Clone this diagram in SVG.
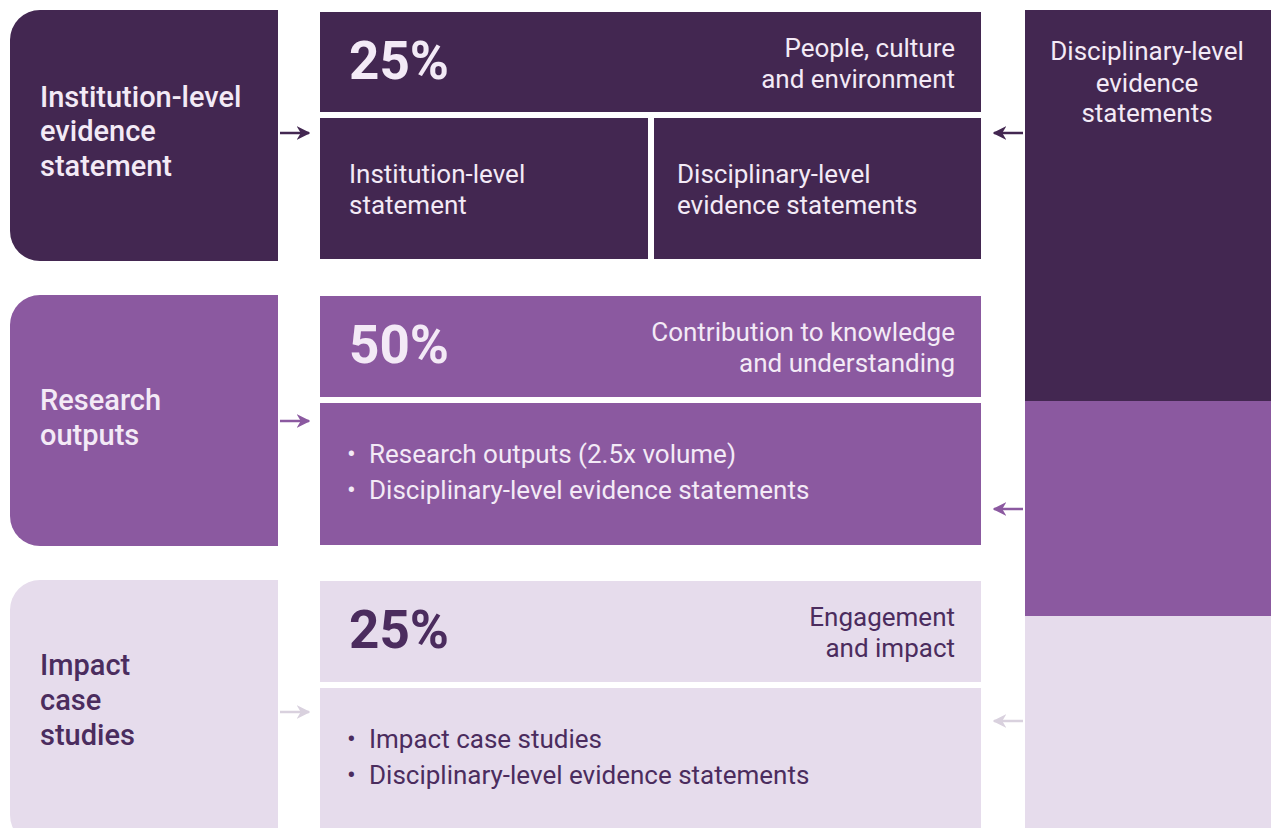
<svg xmlns="http://www.w3.org/2000/svg" width="1271" height="828" viewBox="0 0 1271 828">
<defs>
<style>
.t{font-family:Roboto,"Liberation Sans",sans-serif;}
.lbl{font-size:29px;font-weight:500;}
.big{font-size:53px;font-weight:700;}
.txt{font-size:26px;font-weight:400;}
.w{fill:#f3eaf6;}
.dk{fill:#4b2c5e;}
.c1{fill:#432751;}
.c2{fill:#8b59a0;}
.c3{fill:#e6dcec;}
</style>
<marker id="a1" viewBox="0 0 10 10" refX="9" refY="5" markerWidth="5.5" markerHeight="5.5" orient="auto" markerUnits="strokeWidth"><path d="M0,0 L10,5 L0,10 L3,5 z" fill="#432751"/></marker>
<marker id="a2" viewBox="0 0 10 10" refX="9" refY="5" markerWidth="5.5" markerHeight="5.5" orient="auto" markerUnits="strokeWidth"><path d="M0,0 L10,5 L0,10 L3,5 z" fill="#8b59a0"/></marker>
<marker id="a3" viewBox="0 0 10 10" refX="9" refY="5" markerWidth="5.5" markerHeight="5.5" orient="auto" markerUnits="strokeWidth"><path d="M0,0 L10,5 L0,10 L3,5 z" fill="#d9d1de"/></marker>
</defs>
<rect width="1271" height="828" fill="#ffffff"/>

<g id="left-institution">
<path class="c1" d="M40,10 H278 V261 H40 A30,30 0 0 1 10,231 V40 A30,30 0 0 1 40,10 Z"/>
<text class="t lbl w" x="40" y="107">Institution-level</text>
<text class="t lbl w" x="40" y="141">evidence</text>
<text class="t lbl w" x="40" y="176">statement</text>
</g>

<g id="left-outputs">
<path class="c2" d="M40,295 H278 V546 H40 A30,30 0 0 1 10,516 V325 A30,30 0 0 1 40,295 Z"/>
<text class="t lbl w" x="40" y="410">Research</text>
<text class="t lbl w" x="40" y="445">outputs</text>
</g>

<g id="left-impact">
<path class="c3" d="M40,580 H278 V845 H40 A30,30 0 0 1 10,815 V610 A30,30 0 0 1 40,580 Z"/>
<text class="t lbl dk" x="40" y="675">Impact</text>
<text class="t lbl dk" x="40" y="710">case</text>
<text class="t lbl dk" x="40" y="745">studies</text>
</g>

<g id="mid-people-header">
<rect class="c1" x="320" y="12" width="661" height="100"/>
<text class="t big w" x="349" y="79">25%</text>
<text class="t txt w" x="955" y="57" text-anchor="end">People, culture</text>
<text class="t txt w" x="955" y="88" text-anchor="end">and environment</text>
</g>
<g id="mid-institution-statement">
<rect class="c1" x="320" y="118" width="328" height="141"/>
<text class="t txt w" x="349" y="183">Institution-level</text>
<text class="t txt w" x="349" y="214">statement</text>
</g>
<g id="mid-disciplinary-statements">
<rect class="c1" x="654" y="118" width="327" height="141"/>
<text class="t txt w" x="677" y="183">Disciplinary-level</text>
<text class="t txt w" x="677" y="214">evidence statements</text>
</g>

<g id="mid-contribution-header">
<rect class="c2" x="320" y="296" width="661" height="101"/>
<text class="t big w" x="349" y="363">50%</text>
<text class="t txt w" x="955" y="341" text-anchor="end">Contribution to knowledge</text>
<text class="t txt w" x="955" y="372" text-anchor="end">and understanding</text>
</g>
<g id="mid-outputs-body">
<rect class="c2" x="320" y="403" width="661" height="142"/>
<text class="t txt w" x="347" y="463">•</text>
<text class="t txt w" x="369" y="463">Research outputs (2.5x volume)</text>
<text class="t txt w" x="347" y="499">•</text>
<text class="t txt w" x="369" y="499">Disciplinary-level evidence statements</text>
</g>

<g id="mid-engagement-header">
<rect class="c3" x="320" y="581" width="661" height="101"/>
<text class="t big dk" x="349" y="648">25%</text>
<text class="t txt dk" x="955" y="626" text-anchor="end">Engagement</text>
<text class="t txt dk" x="955" y="657" text-anchor="end">and impact</text>
</g>
<g id="mid-impact-body">
<rect class="c3" x="320" y="688" width="661" height="140"/>
<text class="t txt dk" x="347" y="748">•</text>
<text class="t txt dk" x="369" y="748">Impact case studies</text>
<text class="t txt dk" x="347" y="784">•</text>
<text class="t txt dk" x="369" y="784">Disciplinary-level evidence statements</text>
</g>

<g id="right-disciplinary">
<rect class="c1" x="1025" y="10" width="246" height="391"/>
<rect class="c2" x="1025" y="401" width="246" height="215"/>
<rect class="c3" x="1025" y="616" width="246" height="212"/>
<text class="t txt w" x="1147" y="60" text-anchor="middle">Disciplinary-level</text>
<text class="t txt w" x="1147" y="92" text-anchor="middle">evidence</text>
<text class="t txt w" x="1147" y="122" text-anchor="middle">statements</text>
</g>

<g id="connectors" fill="none" stroke-width="2.5">
<line x1="280" y1="133" x2="309" y2="133" stroke="#432751" marker-end="url(#a1)"/>
<line x1="1023" y1="133" x2="994" y2="133" stroke="#432751" marker-end="url(#a1)"/>
<line x1="280" y1="421" x2="309" y2="421" stroke="#8b59a0" marker-end="url(#a2)"/>
<line x1="1023" y1="509" x2="994" y2="509" stroke="#8b59a0" marker-end="url(#a2)"/>
<line x1="280" y1="712" x2="309" y2="712" stroke="#d9d1de" marker-end="url(#a3)"/>
<line x1="1023" y1="721" x2="994" y2="721" stroke="#d9d1de" marker-end="url(#a3)"/>
</g>
</svg>
